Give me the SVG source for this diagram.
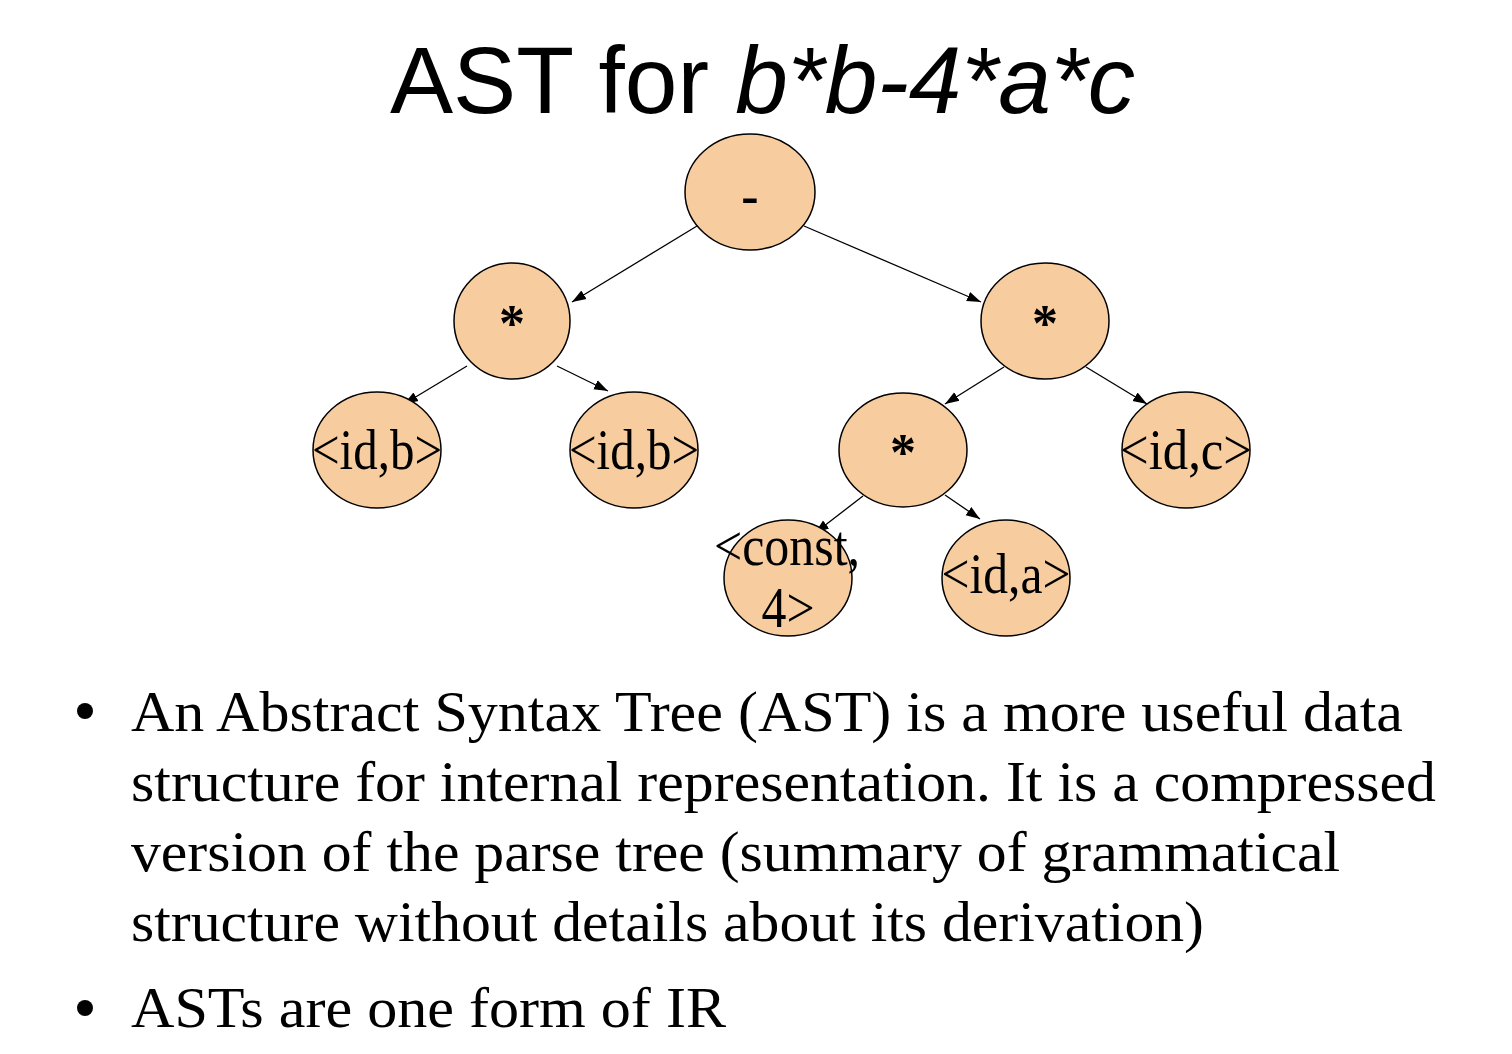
<svg xmlns="http://www.w3.org/2000/svg" width="1512" height="1054" viewBox="0 0 1512 1054">
<style>
.node ellipse{fill:#F7CDA0;stroke:#000;stroke-width:1.5}
.lbl{font-family:"Liberation Serif","Times New Roman",serif;font-size:56px;fill:#000;text-anchor:middle}
.op{font-family:"Liberation Serif","Times New Roman",serif;font-size:52px;font-weight:bold;fill:#000;text-anchor:middle}
.body{font-family:"Liberation Serif","Times New Roman",serif;font-size:57px;fill:#000}
.edge{stroke:#000;stroke-width:1.3;fill:none;marker-end:url(#arr)}
</style>
<defs>
<marker id="arr" markerUnits="userSpaceOnUse" markerWidth="15" markerHeight="12" refX="14" refY="6" orient="auto">
<path d="M0,1 L14,6 L0,11 z" fill="#000"/>
</marker>
</defs>
<rect width="1512" height="1054" fill="#fff"/>
<text x="390" y="113" font-family="'Liberation Sans',Arial,sans-serif" font-size="94" textLength="745" lengthAdjust="spacingAndGlyphs">AST for <tspan font-style="italic">b*b-4*a*c</tspan></text>
<g id="connectors">
<line class="edge" x1="697" y1="226" x2="572" y2="302"/>
<line class="edge" x1="804" y1="226" x2="981" y2="302"/>
<line class="edge" x1="467" y1="366" x2="404" y2="404"/>
<line class="edge" x1="557" y1="366" x2="608" y2="391"/>
<line class="edge" x1="1004" y1="367" x2="945" y2="404"/>
<line class="edge" x1="1086" y1="367" x2="1147" y2="404"/>
<line class="edge" x1="863" y1="496" x2="815" y2="533"/>
<line class="edge" x1="945" y1="495" x2="980" y2="519"/>
</g>
<g id="n_minus" class="node"><ellipse cx="750" cy="192" rx="65" ry="58"/><text class="op" x="750" y="213">-</text></g>
<g id="n_mul_left" class="node"><ellipse cx="512" cy="321" rx="58" ry="58"/><text class="op" x="512" y="341">*</text></g>
<g id="n_mul_right" class="node"><ellipse cx="1045" cy="321" rx="64" ry="58"/><text class="op" x="1045" y="341">*</text></g>
<g id="n_idb1" class="node"><ellipse cx="377" cy="450" rx="64" ry="58"/><text class="lbl" x="377" y="469" textLength="130" lengthAdjust="spacingAndGlyphs">&lt;id,b&gt;</text></g>
<g id="n_idb2" class="node"><ellipse cx="634" cy="450" rx="64" ry="58"/><text class="lbl" x="634" y="469" textLength="130" lengthAdjust="spacingAndGlyphs">&lt;id,b&gt;</text></g>
<g id="n_mul_mid" class="node"><ellipse cx="903" cy="450" rx="64" ry="57"/><text class="op" x="903" y="470">*</text></g>
<g id="n_idc" class="node"><ellipse cx="1186" cy="450" rx="64" ry="58"/><text class="lbl" x="1186" y="469" textLength="132" lengthAdjust="spacingAndGlyphs">&lt;id,c&gt;</text></g>
<g id="n_const4" class="node"><ellipse cx="788" cy="578" rx="64" ry="58"/><text class="lbl" x="787" y="565" textLength="146" lengthAdjust="spacingAndGlyphs">&lt;const,</text><text class="lbl" x="788" y="627" textLength="53" lengthAdjust="spacingAndGlyphs">4&gt;</text></g>
<g id="n_ida" class="node"><ellipse cx="1006" cy="578" rx="64" ry="58"/><text class="lbl" x="1006" y="593" textLength="129" lengthAdjust="spacingAndGlyphs">&lt;id,a&gt;</text></g>
<g id="bullets">
<circle cx="85" cy="711" r="8" fill="#000"/>
<circle cx="85" cy="1008" r="8" fill="#000"/>
<text class="body" x="131" y="731" textLength="1272" lengthAdjust="spacingAndGlyphs">An Abstract Syntax Tree (AST) is a more useful data</text>
<text class="body" x="131" y="801" textLength="1305" lengthAdjust="spacingAndGlyphs">structure for internal representation. It is a compressed</text>
<text class="body" x="131" y="871" textLength="1209" lengthAdjust="spacingAndGlyphs">version of the parse tree (summary of grammatical</text>
<text class="body" x="131" y="941" textLength="1073" lengthAdjust="spacingAndGlyphs">structure without details about its derivation)</text>
<text class="body" x="131" y="1027" textLength="595" lengthAdjust="spacingAndGlyphs">ASTs are one form of IR</text>
</g>
</svg>
